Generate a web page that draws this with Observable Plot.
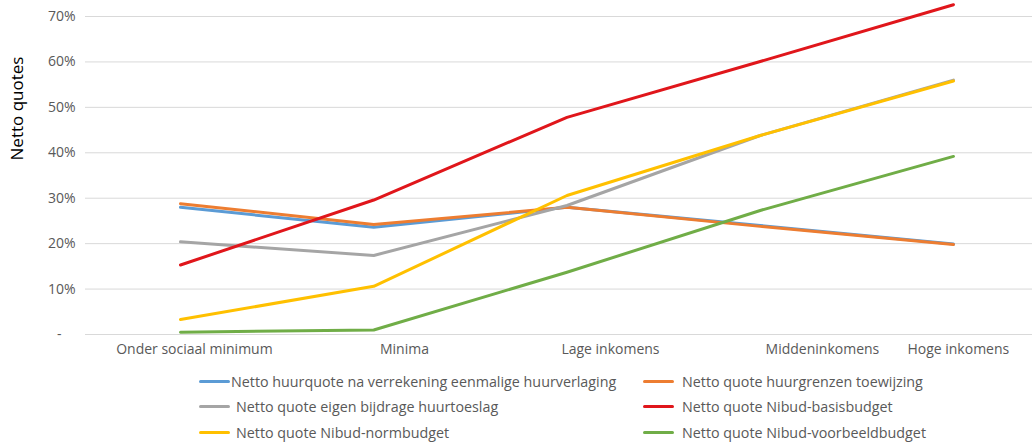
<!DOCTYPE html>
<html><head><meta charset="utf-8">
<script src="https://cdn.jsdelivr.net/npm/d3@7"></script>
<script src="https://cdn.jsdelivr.net/npm/@observablehq/plot@0.6"></script>
<style>
body{margin:0;background:#fff;font-family:"Open Sans",sans-serif;}
#legend{position:relative;width:1032px;height:77px;}
.item{position:absolute;display:flex;align-items:center;font-size:14.3px;color:#595959;white-space:nowrap;}
.sw{width:31px;height:3px;border-radius:2px;}
</style></head>
<body>
<div id="chart"></div>
<div id="legend"></div>
<script>
const categories = ["Onder sociaal minimum","Minima","Lage inkomens","Middeninkomens","Hoge inkomens"];
const labelPositions = [0.072, 1.159, 2.225, 3.322, 4.025];
const yLabel = "Netto quotes";
const seriesNames = [
  "Netto huurquote na verrekening eenmalige huurverlaging",
  "Netto quote huurgrenzen toewijzing",
  "Netto quote eigen bijdrage huurtoeslag",
  "Netto quote Nibud-basisbudget",
  "Netto quote Nibud-normbudget",
  "Netto quote Nibud-voorbeeldbudget"
];
const huurverlaging = [28.0, 23.6, 28.0, 24.0, 19.9];
const huurgrenzen   = [28.8, 24.2, 28.0, 23.8, 19.8];
const eigenBijdrage = [20.4, 17.4, 28.4, 43.8, 56.0];
const basisbudget   = [15.3, 29.6, 47.8, 60.1, 72.6];
const normbudget    = [3.3, 10.6, 30.6, 43.8, 55.8];
const voorbeeld     = [0.5, 1.0, 13.7, 27.3, 39.2];
const seriesValues = [huurverlaging, huurgrenzen, eigenBijdrage, basisbudget, normbudget, voorbeeld];
const colors = ["#5B9BD5","#ED7D31","#A5A5A5","#E0161B","#FFC000","#70AD47"];
const yTicks = [0,10,20,30,40,50,60,70];

const marks = [
  Plot.ruleY(yTicks, {stroke:"#d9d9d9", strokeWidth:1}),
  Plot.axisY({ticks:yTicks, tickSize:0, tickPadding:10, tickFormat:d => d===0 ? "-\u2002\u2002" : d+"%",
    label:null, fontSize:14, color:"#595959"}),
  Plot.axisX({ticks:labelPositions, tickSize:0, tickPadding:10, tickFormat:(d,i) => categories[i],
    label:null, fontSize:14, color:"#595959"}),
  Plot.text([yLabel], {text:d => d, frameAnchor:"top-left", dx:-68, dy:92, rotate:-90,
    textAnchor:"middle", lineAnchor:"middle", fill:"#000", fontSize:17})
];
seriesValues.forEach((vals, s) => {
  const data = vals.map((v,i) => ({x:i, y:v}));
  marks.push(Plot.line(data, {x:"x", y:"y", stroke:colors[s], strokeWidth:3, strokeLinecap:"round", strokeLinejoin:"round"}));
});

const chart = Plot.plot({
  width:1032, height:365,
  marginLeft:85, marginRight:0, marginTop:16, marginBottom:31,
  style:{fontFamily:"Open Sans, sans-serif", fontSize:"14px", color:"#595959", background:"#fff"},
  x:{type:"linear", domain:[-0.4916, 4.409]},
  y:{domain:[0,70]},
  marks
});
document.getElementById("chart").appendChild(chart);

const legend = document.getElementById("legend");
const legendPos = [[199,16,1],[643,16,8],[199,41,6],[643,41,8],[199,67,6],[643,67,8]];
seriesNames.forEach((name, s) => {
  const [lx, ly, gap] = legendPos[s];
  const div = document.createElement("div");
  div.className = "item";
  div.style.left = lx + "px";
  div.style.top = (ly - 10) + "px";
  div.style.height = "20px";
  div.innerHTML = `<span class="sw" style="background:${colors[s]};margin-right:${gap}px"></span><span>${name}</span>`;
  legend.appendChild(div);
});
</script>
</body></html>
